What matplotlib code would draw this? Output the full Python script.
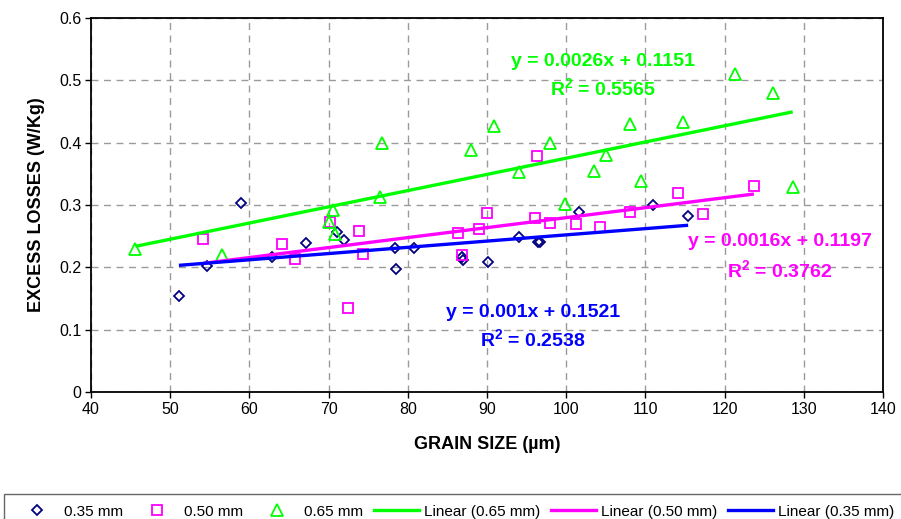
import numpy as np
import matplotlib
matplotlib.use("Agg")
import matplotlib.pyplot as plt
from matplotlib.lines import Line2D

plt.rcParams['font.family'] = ['Liberation Sans', 'DejaVu Sans']
plt.rcParams['mathtext.fontset'] = 'custom'
plt.rcParams['mathtext.bf'] = 'Liberation Sans:bold'
plt.rcParams['mathtext.rm'] = 'Liberation Sans'

# Grain size (µm) and excess losses (W/Kg) for each sheet thickness
x_035 = [51.1, 54.6, 58.9, 62.8, 67.2, 71.0, 71.9, 78.4, 78.5, 80.8,
         86.8, 87.0, 90.1, 94.1, 96.4, 96.7, 101.6, 110.9, 115.4]
y_035 = [0.154, 0.202, 0.304, 0.216, 0.239, 0.257, 0.244, 0.231, 0.198, 0.231,
         0.217, 0.212, 0.208, 0.248, 0.241, 0.241, 0.288, 0.300, 0.282]

x_050 = [54.2, 64.1, 65.7, 70.2, 72.5, 73.9, 74.3, 86.4, 86.9, 89.0,
         90.0, 96.1, 96.3, 98.0, 101.2, 104.3, 108.0, 114.1, 117.3, 123.7]
y_050 = [0.245, 0.238, 0.214, 0.272, 0.134, 0.258, 0.221, 0.255, 0.219, 0.261,
         0.287, 0.279, 0.379, 0.271, 0.270, 0.264, 0.288, 0.320, 0.286, 0.330]

x_065 = [45.6, 56.5, 70.1, 70.6, 70.8, 76.5, 76.7, 88.0, 90.9, 94.0,
         97.9, 99.8, 103.5, 105.0, 108.0, 109.5, 114.8, 121.3, 126.1, 128.6]
y_065 = [0.229, 0.219, 0.272, 0.292, 0.253, 0.313, 0.400, 0.389, 0.426, 0.353,
         0.400, 0.302, 0.354, 0.381, 0.430, 0.338, 0.433, 0.510, 0.479, 0.329]

# Linear trend coefficients (slope, intercept) and R² values
fit_065 = (0.0026, 0.1151, 0.5565)
fit_050 = (0.0016, 0.1197, 0.3762)
fit_035 = (0.001, 0.1521, 0.2538)

series_labels = ['0.35 mm', '0.50 mm', '0.65 mm']
x_ticks = [40, 50, 60, 70, 80, 90, 100, 110, 120, 130, 140]
y_ticks = [0, 0.1, 0.2, 0.3, 0.4, 0.5, 0.6]
y_tick_labels = ['0', '0.1', '0.2', '0.3', '0.4', '0.5', '0.6']

NAVY = '#000080'
MAGENTA = '#FF00FF'
GREEN = '#00FF00'
BLUE = '#0000FF'

fig = plt.figure(figsize=(9.01, 5.19), dpi=100)
ax = fig.add_axes([0.101, 0.2447, 0.879, 0.7206])

ax.plot(x_035, y_035, linestyle='none', marker='D', markersize=5.5,
        markerfacecolor='none', markeredgecolor=NAVY, markeredgewidth=1.3, zorder=3)
ax.plot(x_050, y_050, linestyle='none', marker='s', markersize=7,
        markerfacecolor='none', markeredgecolor=MAGENTA, markeredgewidth=1.3, zorder=3)
ax.plot(x_065, y_065, linestyle='none', marker='^', markersize=8,
        markerfacecolor='none', markeredgecolor=GREEN, markeredgewidth=1.3, zorder=3)


def trend(xs, fit, color):
    xr = np.array([min(xs), max(xs)])
    ax.plot(xr, fit[0] * xr + fit[1], color=color, linewidth=2.4,
            solid_capstyle='butt', zorder=4)


trend(x_065, fit_065, GREEN)
trend(x_050, fit_050, MAGENTA)
trend(x_035, fit_035, BLUE)


def equation(fit, xc, y1, y2, color):
    ax.text(xc, y1, f"y = {fit[0]:g}x + {fit[1]:.4f}", color=color,
            fontsize=14, fontweight='bold', ha='center', va='center', zorder=5)
    ax.text(xc, y2, f"R$^{{\\mathbf{{2}}}}$ = {fit[2]:.4f}", color=color,
            fontsize=14, fontweight='bold', ha='center', va='center', zorder=5)


equation(fit_065, 104.6, 0.530, 0.487, GREEN)
equation(fit_050, 127.0, 0.241, 0.194, MAGENTA)
equation(fit_035, 95.8, 0.128, 0.083, BLUE)

ax.set_xlim(40, 140)
ax.set_ylim(0, 0.6)
ax.set_xticks(x_ticks)
ax.set_yticks(y_ticks)
ax.set_yticklabels(y_tick_labels)
ax.tick_params(axis='both', direction='out', length=4, width=1, labelsize=11.5,
               pad=3)
ax.grid(True, color='#9a9a9a', linestyle=(0, (5, 4)), linewidth=1)
ax.set_axisbelow(True)
for s in ax.spines.values():
    s.set_linewidth(1.3)
    s.set_color('black')

ax.set_xlabel('GRAIN SIZE (µm)', fontsize=13, fontweight='bold', labelpad=14)
ax.set_ylabel('EXCESS LOSSES (W/Kg)', fontsize=13, fontweight='bold', labelpad=10)

handles = [
    Line2D([], [], linestyle='none', marker='D', markersize=5.5, markerfacecolor='none',
           markeredgecolor=NAVY, markeredgewidth=1.3),
    Line2D([], [], linestyle='none', marker='s', markersize=7, markerfacecolor='none',
           markeredgecolor=MAGENTA, markeredgewidth=1.3),
    Line2D([], [], linestyle='none', marker='^', markersize=8, markerfacecolor='none',
           markeredgecolor=GREEN, markeredgewidth=1.3),
    Line2D([], [], color=GREEN, linewidth=2.4),
    Line2D([], [], color=MAGENTA, linewidth=2.4),
    Line2D([], [], color=BLUE, linewidth=2.4),
]
labels = series_labels + [f'Linear ({s})' for s in ['0.65 mm', '0.50 mm', '0.35 mm']]
leg = fig.legend(handles, labels, loc='lower left',
                 bbox_to_anchor=(0.0045, -0.02, 1.0, 0.07), mode='expand',
                 ncol=6, fontsize=11, frameon=True, fancybox=False,
                 handlelength=2.9, handletextpad=0.35, columnspacing=0.8,
                 borderpad=0.7, borderaxespad=0)
leg.get_frame().set_edgecolor('#404040')
leg.get_frame().set_linewidth(1)

fig.savefig('out.png', dpi=100)
